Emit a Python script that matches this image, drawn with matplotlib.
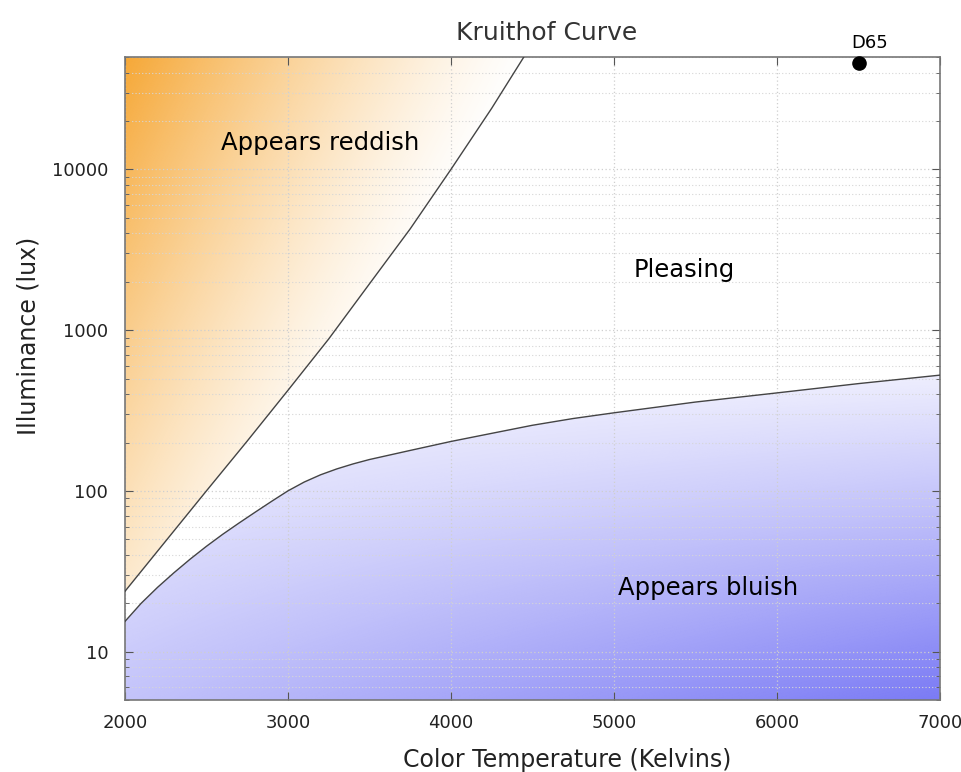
import numpy as np
import matplotlib
matplotlib.use('Agg')
import matplotlib.pyplot as plt
from matplotlib.ticker import FixedLocator, LogLocator, NullFormatter, FuncFormatter

# boundary between "Appears reddish" and "Pleasing"
upper_temp = [2000, 2250, 2500, 2750, 3000, 3250, 3500, 3750, 4000, 4250, 4447]
upper_lux = [23.7, 48.7, 100, 204, 422, 881, 1940, 4266, 10000, 24000, 50000]

# boundary between "Pleasing" and "Appears bluish"
lower_temp = [2000, 2100, 2200, 2300, 2400, 2500, 2600, 2700, 2800, 2900, 3000,
              3100, 3200, 3300, 3400, 3500, 3750, 4000, 4250, 4500, 4750, 5000,
              5500, 6000, 6500, 7000]
lower_lux = [15.4, 20.0, 25.1, 30.9, 37.6, 45.2, 53.7, 63.1, 73.8, 86.1, 100,
             113.5, 125.9, 137, 147.2, 156.7, 178.5, 203, 228, 256, 282, 306,
             357, 407, 465, 525]

d65_temp = 6504
d65_lux = 45700

region_labels = ['Appears reddish', 'Pleasing', 'Appears bluish']
label_temp = [3196, 5429, 5577]
label_lux = [14700, 2380, 24.7]

xmin, xmax = 2000, 7000
ymin, ymax = 5, 50000

fig = plt.figure(figsize=(9.61, 7.72), dpi=100)
ax = fig.add_axes([0.130, 0.0933, 0.848, 0.8327])
ax.set_yscale('log')

# gradient images in axes coords
n = 400
u, v = np.meshgrid(np.linspace(0, 1, n), np.linspace(0, 1, n))

orange = np.zeros((n, n, 4))
orange[..., :3] = np.array([246, 168, 55]) / 255
orange[..., 3] = np.clip(1 - u / 0.5 - (1 - v) * 0.8, 0, 1) ** 1.3

blue = np.zeros((n, n, 4))
blue[..., :3] = np.array([122, 122, 245]) / 255
blue[..., 3] = np.clip(1 - v / 0.6, 0, 1) ** 1.1 * (0.45 + 0.55 * u)

poly_r = ax.fill_between(upper_temp, upper_lux, ymax, color='none', lw=0)
poly_b = ax.fill_between(lower_temp, ymin, lower_lux, color='none', lw=0)

im_o = ax.imshow(orange, extent=[0, 1, 0, 1], origin='lower', transform=ax.transAxes,
                 aspect='auto', interpolation='bilinear', zorder=0)
im_o.set_clip_path(poly_r.get_paths()[0], transform=ax.transData)
im_b = ax.imshow(blue, extent=[0, 1, 0, 1], origin='lower', transform=ax.transAxes,
                 aspect='auto', interpolation='bilinear', zorder=0)
im_b.set_clip_path(poly_b.get_paths()[0], transform=ax.transData)
ax.set_xlim(xmin, xmax)
ax.set_ylim(ymin, ymax)

ax.plot(upper_temp, upper_lux, color='#444444', lw=1.0, zorder=3)
ax.plot(lower_temp, lower_lux, color='#444444', lw=1.0, zorder=3)

ax.plot([d65_temp], [d65_lux], 'o', color='black', ms=9.5, clip_on=False, zorder=5)
ax.text(d65_temp + 65, 54000, 'D65', ha='center', va='bottom', fontsize=13)

for lab, t, l in zip(region_labels, label_temp, label_lux):
    ax.text(t, l, lab, ha='center', va='center', fontsize=17.5)

# ticks and grid
ax.xaxis.set_major_locator(FixedLocator([2000, 3000, 4000, 5000, 6000, 7000]))
ax.yaxis.set_major_locator(FixedLocator([10, 100, 1000, 10000]))
ax.yaxis.set_major_formatter(FuncFormatter(lambda y, p: '%d' % y))
ax.yaxis.set_minor_locator(LogLocator(base=10, subs=np.arange(2, 10)))
ax.yaxis.set_minor_formatter(NullFormatter())
ax.tick_params(which='both', direction='in', top=True, right=True, labelsize=13,
               colors='#222222')
ax.tick_params(axis='y', pad=12)
ax.tick_params(axis='x', pad=10)
ax.tick_params(which='major', length=6, color='#555555')
ax.tick_params(which='minor', length=3, color='#555555')
ax.grid(True, which='major', ls=(0, (1, 2)), color='#cfcfcf', lw=0.9)
ax.grid(True, which='minor', axis='y', ls=(0, (1, 2)), color='#d6d6d6', lw=0.8)
ax.set_axisbelow(True)
for s in ax.spines.values():
    s.set_color('#777777')
    s.set_linewidth(1.2)

ax.set_title('Kruithof Curve', fontsize=18, color='#333333', pad=12, x=0.517)
ax.set_xlabel('Color Temperature (Kelvins)', fontsize=17, color='#222222')
ax.xaxis.set_label_coords(0.543, -0.075)
ax.set_ylabel('Illuminance (lux)', fontsize=17, color='#222222')
ax.yaxis.set_label_coords(-0.104, 0.567)

fig.savefig('out.png', dpi=100)
